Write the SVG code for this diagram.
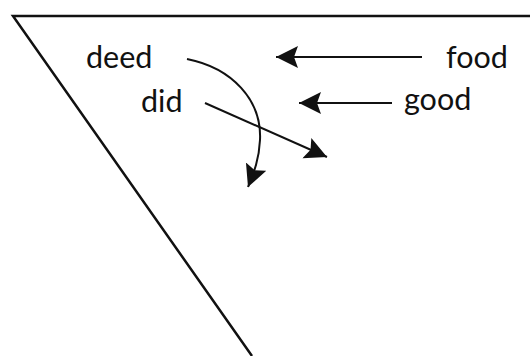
<svg xmlns="http://www.w3.org/2000/svg" width="530" height="356" viewBox="0 0 530 356">
<style>
.t{font-family:"Lato","Open Sans",sans-serif;font-size:30.5px;fill:#111}
.c{fill:none;stroke:#111;stroke-width:2}
.f{fill:none;stroke:#111;stroke-width:2.5}
</style>
<defs>
<marker id="ah" markerUnits="userSpaceOnUse" markerWidth="24" markerHeight="24" refX="22" refY="11" orient="auto">
<path d="M0,0 L22,11 L0,22 L4,11 Z" fill="#111"/>
</marker>
</defs>
<rect width="530" height="356" fill="#fff"/>
<g id="frame">
<path class="f" d="M530,16 L13,16 L252,356"/>
</g>
<g id="deed"><text class="t" x="86" y="68">deed</text></g>
<g id="did"><text class="t" x="141" y="112">did</text></g>
<g id="food"><text class="t" x="446" y="68">food</text></g>
<g id="good"><text class="t" x="404" y="110">good</text></g>
<g id="connectors">
<path class="c" d="M422,57 L276,57" marker-end="url(#ah)"/>
<path class="c" d="M392,103 L299,103" marker-end="url(#ah)"/>
<path class="c" d="M205,103 L327,157" marker-end="url(#ah)"/>
<path class="c" d="M187,59 C232,68 262,100 260,140 C259,160 254,172 248,187" marker-end="url(#ah)"/>
</g>
</svg>
